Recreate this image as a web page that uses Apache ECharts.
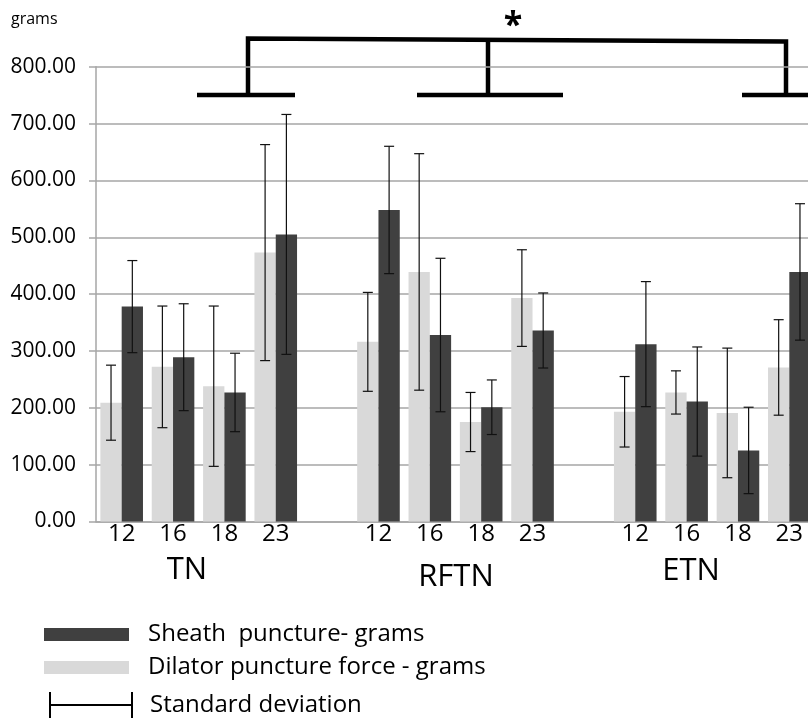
<!DOCTYPE html>
<html>
<head>
<meta charset="utf-8">
<script src="https://cdn.jsdelivr.net/npm/echarts@6/dist/echarts.min.js"></script>
<style>
  html, body { margin: 0; padding: 0; background: #fff; }
  #chart { width: 808px; height: 720px; }
</style>
</head>
<body>
<div id="chart"></div>
<script>
// Needle sizes per nerve group; empty slots separate the groups.
var categories = ['12', '16', '18', '23', '', '12', '16', '18', '23', '', '12', '16', '18', '23'];
var groups = ['TN', 'RFTN', 'ETN'];

// Mean puncture force (grams) and standard deviation.
var dilator = [209, 272, 238, 473, null, 316, 439, 175, 393, null, 193, 227, 191, 271];
var dilatorSd = [66, 107, 141, 190, null, 87, 208, 52, 85, null, 62, 38, 114, 84];
var sheath = [378, 289, 227, 505, null, 548, 328, 201, 336, null, 312, 211, 125, 439];
var sheathSd = [81, 94, 69, 211, null, 112, 135, 48, 66, null, 110, 96, 76, 120];

var yTicks = { min: 0, max: 800, interval: 100 };

var BAR_W = 21.3;
var FONT = '"Open Sans", sans-serif';

// Build [category, low, high, side] items for the error bars.
function errorItems(means, sds, side) {
    var out = [];
    for (var i = 0; i < means.length; ++i) {
        if (means[i] === null) continue;
        out.push([i, means[i] - sds[i], means[i] + sds[i], side]);
    }
    return out;
}
var errData = errorItems(dilator, dilatorSd, -1).concat(errorItems(sheath, sheathSd, 1));

var myChart = echarts.init(document.getElementById('chart'));

var option = {
    animation: false,
    backgroundColor: '#fff',
    textStyle: { fontFamily: FONT },
    grid: {
        left: 96,
        right: -7,
        top: 66.7,
        bottom: 198.5,
        outerBoundsMode: 'none'
    },
    xAxis: {
        type: 'category',
        data: categories,
        axisLine: { lineStyle: { color: '#a6a6a6', width: 1.5 } },
        axisTick: { show: false },
        axisLabel: { color: '#000', fontSize: 24, margin: 1, fontFamily: FONT, interval: 0 },
        splitLine: { show: false }
    },
    yAxis: {
        type: 'value',
        min: yTicks.min,
        max: yTicks.max,
        interval: yTicks.interval,
        axisLine: { show: true, lineStyle: { color: '#a6a6a6', width: 1.5 } },
        axisTick: { show: true, inside: false, length: 7, lineStyle: { color: '#a6a6a6', width: 1.5 } },
        axisLabel: {
            color: '#000', fontSize: 21, margin: 20, fontFamily: FONT,
            formatter: function (v) { return v.toFixed(2); }
        },
        splitLine: { lineStyle: { color: '#a6a6a6', width: 1.5 } }
    },
    legend: [{
        orient: 'vertical',
        left: 44,
        top: 613.5,
        padding: 0,
        itemWidth: 85,
        itemHeight: 13,
        itemGap: -9,
        icon: 'rect',
        selectedMode: false,
        data: ['Sheath  puncture- grams', 'Dilator puncture force - grams'],
        textStyle: { color: '#000', fontSize: 24, lineHeight: 22, fontFamily: FONT, padding: [0, 0, 20, 14] }
    }, {
        orient: 'vertical',
        left: 49,
        top: 689,
        padding: 0,
        itemWidth: 84,
        itemHeight: 26,
        selectedMode: false,
        data: [{
            name: 'Standard deviation',
            icon: 'path://M0,0h2v26h-2z M0,12h84v2h-84z M82,0h2v26h-2z'
        }],
        textStyle: { color: '#000', fontSize: 24, lineHeight: 26, fontFamily: FONT, padding: [0, 0, 6, 12] }
    }],
    series: [{
        name: 'Dilator puncture force - grams',
        type: 'bar',
        data: dilator,
        barWidth: BAR_W,
        barGap: '0%',
        itemStyle: { color: '#d9d9d9' }
    }, {
        name: 'Sheath  puncture- grams',
        type: 'bar',
        data: sheath,
        barWidth: BAR_W,
        barGap: '0%',
        itemStyle: { color: '#404040' }
    }, {
        name: 'Standard deviation',
        type: 'custom',
        data: errData,
        itemStyle: { color: '#000' },
        encode: { x: 0, y: [1, 2] },
        z: 10,
        renderItem: function (params, api) {
            var cat = api.value(0);
            var side = api.value(3);
            var top = api.coord([cat, api.value(2)]);
            var bot = api.coord([cat, api.value(1)]);
            var x = top[0] + side * BAR_W / 2;
            var cap = 5;
            var style = { stroke: '#111', lineWidth: 1.2 };
            return {
                type: 'group',
                children: [
                    { type: 'line', shape: { x1: x, y1: top[1], x2: x, y2: bot[1] }, style: style },
                    { type: 'line', shape: { x1: x - cap, y1: top[1], x2: x + cap, y2: top[1] }, style: style },
                    { type: 'line', shape: { x1: x - cap, y1: bot[1], x2: x + cap, y2: bot[1] }, style: style }
                ]
            };
        }
    }],
    graphic: [
        // unit label
        { type: 'text', left: 11, top: 11, style: { text: 'grams', fontSize: 16, fontFamily: FONT, fill: '#000' } },
        // group names under the sizes
        { type: 'text', x: 187, y: 570, style: { text: groups[0], fontSize: 31, fontFamily: FONT, fill: '#000', align: 'center', verticalAlign: 'middle' } },
        { type: 'text', x: 456, y: 577, style: { text: groups[1], fontSize: 31, fontFamily: FONT, fill: '#000', align: 'center', verticalAlign: 'middle' } },
        { type: 'text', x: 691, y: 571, style: { text: groups[2], fontSize: 31, fontFamily: FONT, fill: '#000', align: 'center', verticalAlign: 'middle' } },
        // significance bracket
        { type: 'polyline', shape: { points: [[248, 95], [248, 38.5], [786, 41.5], [786, 95]] }, style: { stroke: '#000', lineWidth: 4.5, fill: null } },
        { type: 'line', shape: { x1: 488, y1: 40, x2: 488, y2: 95 }, style: { stroke: '#000', lineWidth: 4.5 } },
        { type: 'line', shape: { x1: 197, y1: 95, x2: 295, y2: 95 }, style: { stroke: '#000', lineWidth: 4.5 } },
        { type: 'line', shape: { x1: 417, y1: 95, x2: 563, y2: 95 }, style: { stroke: '#000', lineWidth: 4.5 } },
        { type: 'line', shape: { x1: 742, y1: 95, x2: 815, y2: 95 }, style: { stroke: '#000', lineWidth: 4.5 } },
        { type: 'text', x: 513, y: 26, style: { text: '*', fontSize: 34, fontWeight: 'bold', fontFamily: FONT, fill: '#000', align: 'center', verticalAlign: 'middle' } }
    ]
};
myChart.setOption(option);
</script>
</body>
</html>
